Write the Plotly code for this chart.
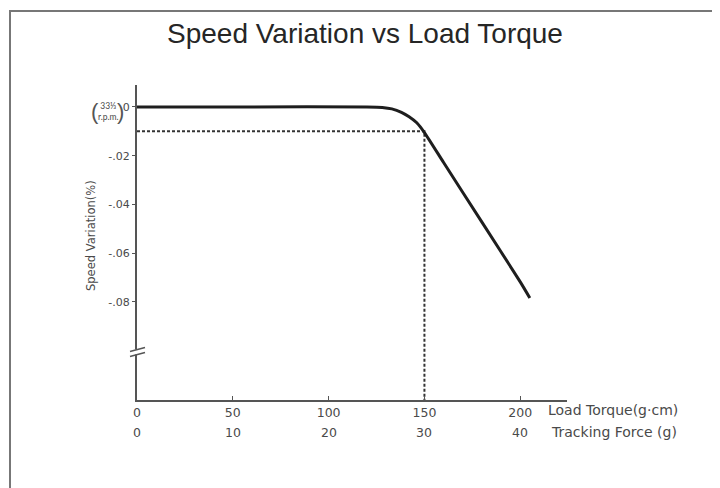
import plotly.graph_objects as go

# ---- data ----
load_torque = [0, 60, 120, 128, 133, 138, 142, 146, 150, 160, 180, 200, 205]
speed_var = [0, 0, 0, -0.0002, -0.0008, -0.0022, -0.0040, -0.0065, -0.0105, -0.0228, -0.0473, -0.0718, -0.0784]
x_ticks = [0, 50, 100, 150, 200]
x_tick_labels = ["0", "50", "100", "150", "200"]
force_ticks = [0, 10, 20, 30, 40]
y_ticks = [0, -0.02, -0.04, -0.06, -0.08]
y_tick_labels = ["0", "-.02", "-.04", "-.06", "-.08"]
ref_load = 150
ref_speed = -0.01

X_MIN, X_MAX = 0, 224.4
Y_MIN, Y_MAX = -0.1203, 0.009

FONT = "DejaVu Sans, Verdana, sans-serif"
TXT = "#4a4a4a"

fig = go.Figure()

# dashed reference lines
fig.add_trace(go.Scatter(
    x=[X_MIN, ref_load, ref_load], y=[ref_speed, ref_speed, Y_MIN],
    mode="lines", line=dict(color="#333333", width=2, dash="3px,2px"),
    hoverinfo="skip", showlegend=False))

# main curve
fig.add_trace(go.Scatter(
    x=load_torque, y=speed_var, mode="lines",
    line=dict(color="#1e1e1e", width=3, shape="spline", smoothing=0.6),
    showlegend=False))

tickfont = dict(family=FONT, size=12.5, color=TXT)

# page body adds an 8px offset; margins are chosen so the plot lands at
# window x 137..567, y 85..400
fig.update_layout(
    width=720, height=488,
    margin=dict(l=129, r=161, t=77, b=96),
    paper_bgcolor="white", plot_bgcolor="white",
    title=dict(text="Speed Variation vs Load Torque", x=(365 - 8) / 720, xanchor="center",
               y=1 - 25 / 488, yanchor="middle",
               font=dict(family="Liberation Sans, Arial, sans-serif", size=28, color="#262626")),
    xaxis=dict(range=[X_MIN, X_MAX], tickvals=x_ticks, ticktext=x_tick_labels,
               showgrid=False, zeroline=False, showline=True, linecolor="#555555", linewidth=2,
               ticks="inside", ticklen=4, tickcolor="#555555", tickfont=tickfont),
    yaxis=dict(range=[Y_MIN, Y_MAX], tickvals=y_ticks, ticktext=y_tick_labels,
               showgrid=False, zeroline=False, showline=True, linecolor="#555555", linewidth=2,
               ticks="outside", ticklen=3, tickcolor="#555555",
               tickfont=dict(family=FONT, size=11, color=TXT)),
)

px = lambda v: (v - 137) / 430
py = lambda v: (400 - v) / 315

# second row of x labels: tracking force
for lt, tf in zip(x_ticks, force_ticks):
    fig.add_annotation(x=lt, y=py(432), xref="x", yref="paper", text=str(tf),
                       showarrow=False, xanchor="center", yanchor="middle",
                       font=tickfont)

fig.add_annotation(x=px(546), y=py(410), xref="paper", yref="paper",
                   text="Load Torque(g·cm)", showarrow=False, xanchor="left", yanchor="middle",
                   font=dict(family=FONT, size=14, color=TXT))
fig.add_annotation(x=px(549), y=py(432), xref="paper", yref="paper",
                   text="Tracking Force (g)", showarrow=False, xanchor="left", yanchor="middle",
                   font=dict(family=FONT, size=14, color=TXT))

# y axis title
fig.add_annotation(x=px(91), y=py(236), xref="paper", yref="paper",
                   text="Speed Variation(%)", showarrow=False, textangle=-90,
                   xanchor="center", yanchor="middle",
                   font=dict(family=FONT, size=11.5, color=TXT))

# 33 1/3 rpm label
fig.add_annotation(x=px(108), y=py(111), xref="paper", yref="paper",
                   text="33⅓<br>r.p.m.", showarrow=False, xanchor="center", yanchor="middle",
                   font=dict(family="Lato, DejaVu Sans, sans-serif", size=8.5, color=TXT))
fig.add_annotation(x=px(95), y=py(111), xref="paper", yref="paper",
                   text="(", showarrow=False, xanchor="center", yanchor="middle",
                   font=dict(family="Liberation Sans, sans-serif", size=22, color="#555555"))
fig.add_annotation(x=px(120), y=py(111), xref="paper", yref="paper",
                   text=")", showarrow=False, xanchor="center", yanchor="middle",
                   font=dict(family="Liberation Sans, sans-serif", size=22, color="#555555"))

# frame around chart
fig.add_shape(type="rect", xref="paper", yref="paper",
              x0=px(10), x1=px(714), y0=py(505), y1=py(11),
              line=dict(color="#777777", width=2), fillcolor="rgba(0,0,0,0)", layer="below")

# axis break symbol
fig.add_shape(type="rect", xref="paper", yref="paper",
              x0=px(134), x1=px(141), y0=py(354.5), y1=py(349.5),
              line=dict(width=0), fillcolor="white", layer="above")
for yo in (349.5, 354.5):
    fig.add_shape(type="line", xref="paper", yref="paper",
                  x0=px(130), x1=px(145), y0=py(yo + 2), y1=py(yo - 2),
                  line=dict(color="#555555", width=1.5), layer="above")

fig.write_html("out.html")
